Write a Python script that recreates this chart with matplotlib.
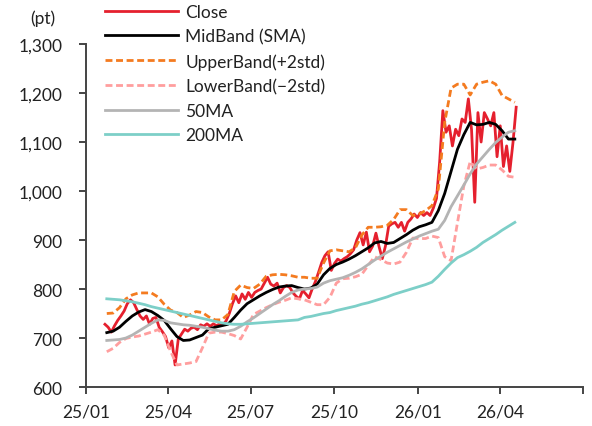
import pandas as pd
import matplotlib
matplotlib.use('Agg')
import matplotlib.pyplot as plt
from matplotlib.ticker import StrMethodFormatter

plt.rcParams['font.family'] = ['Lato', 'DejaVu Sans']

# close, about two readings a week
close_dates = pd.date_range('2025-01-22', periods=130, freq='84h')
close = [728, 722, 712, 725, 736, 745, 755, 770, 778, 772,
         758, 745, 738, 745, 728, 740, 742, 722, 713, 703,
         680, 694, 645, 698, 708, 718, 714, 720, 722, 717,
         727, 724, 729, 724, 729, 725, 729, 727, 735, 750,
         770, 786, 772, 790, 779, 793, 783, 793, 797, 800,
         812, 824, 810, 806, 812, 792, 803, 807, 803, 792,
         785, 780, 797, 790, 782, 800, 815, 834, 854, 868,
         876, 838, 852, 861, 857, 862, 866, 872, 880, 900,
         915, 890, 916, 876, 888, 914, 886, 862, 888, 928,
         933, 936, 926, 936, 918, 936, 943, 953, 946, 956,
         950, 956, 950, 965, 985, 1060, 1164, 1120, 1133, 1092,
         1126, 1113, 1147, 1140, 1188, 1125, 977, 1160, 1100, 1160,
         1147, 1133, 1160, 1070, 1133, 1050, 1092, 1040, 1099, 1171]

# bands and moving averages, weekly
dates = pd.date_range('2025-01-24', periods=65, freq='7D')
mid = [711, 714, 722, 734, 745, 753, 758, 754, 746, 736,
       719, 703, 695, 696, 701, 706, 719, 722, 725, 728,
       742, 757, 770, 778, 786, 793, 799, 804, 806, 807,
       803, 800, 802, 810, 829, 842, 850, 855, 861, 868,
       876, 884, 894, 897, 893, 895, 903, 911, 920, 927,
       931, 936, 960, 995, 1040, 1085, 1115, 1140, 1135, 1136,
       1140, 1136, 1123, 1106, 1106]
upper = [750, 751, 762, 780, 788, 792, 792, 792, 784, 769,
         757, 752, 742, 747, 754, 752, 743, 737, 737, 748,
         795, 808, 803, 801, 810, 826, 829, 830, 829, 827,
         824, 824, 822, 822, 853, 878, 880, 878, 876, 884,
         910, 926, 926, 927, 930, 942, 962, 962, 950, 953,
         960, 970, 1004, 1140, 1210, 1218, 1218, 1196, 1218, 1222,
         1225, 1218, 1195, 1188, 1181]
lower = [672, 679, 691, 699, 702, 704, 708, 712, 717, 706,
         673, 645, 647, 649, 652, 680, 710, 712, 712, 709,
         705, 698, 722, 748, 755, 762, 768, 773, 777, 782,
         780, 778, 773, 768, 768, 783, 812, 821, 822, 825,
         830, 848, 866, 860, 853, 851, 855, 875, 904, 903,
         903, 908, 905, 866, 858, 935, 1010, 1060, 1045, 1048,
         1053, 1053, 1043, 1030, 1028]
ma50 = [695, 696, 697, 700, 706, 714, 722, 730, 737, 736,
        731, 729, 727, 726, 724, 722, 719, 716, 714, 714,
        717, 724, 733, 741, 750, 759, 768, 776, 785, 793,
        798, 800, 801, 804, 812, 817, 820, 823, 828, 834,
        841, 850, 859, 867, 875, 882, 889, 896, 902, 908,
        913, 918, 922, 940, 968, 990, 1012, 1035, 1055, 1070,
        1085, 1099, 1110, 1120, 1123]
ma200 = [780, 779, 778, 776, 774, 771, 768, 764, 761, 758,
         755, 752, 749, 746, 743, 740, 737, 734, 731, 729,
         728, 728, 729, 730, 731, 732, 733, 734, 735, 736,
         737, 742, 744, 747, 750, 752, 756, 759, 762, 765,
         769, 772, 776, 780, 784, 789, 793, 797, 801, 805,
         809, 814, 826, 840, 853, 864, 870, 877, 885, 895,
         903, 911, 920, 928, 936]

tick_dates = pd.to_datetime(['2025-01-01', '2025-04-01', '2025-07-01', '2025-10-01',
                             '2026-01-01', '2026-04-01', '2026-07-01'])
tick_labels = ['25/01', '25/04', '25/07', '25/10', '26/01', '26/04', '']

fig = plt.figure(figsize=(5.92, 4.27), dpi=100)
ax = fig.add_axes([0.145, 0.0913, 0.84, 0.8033])

ax.plot(close_dates, close, color='#e5202e', lw=2, label='Close')
ax.plot(dates, mid, color='black', lw=2, label='MidBand (SMA)')
ax.plot(dates, upper, color='#f47b20', lw=2, dashes=(2.5, 1.3), label='UpperBand(+2std)')
ax.plot(dates, lower, color='#ff9e9e', lw=2, dashes=(2.5, 1.3), label='LowerBand(\u22122std)')
ax.plot(dates, ma50, color='#b4b4b4', lw=2, label='50MA')
ax.plot(dates, ma200, color='#7dcfc8', lw=2, label='200MA')

ax.set_ylim(600, 1300)
ax.set_yticks(range(600, 1301, 100))
ax.yaxis.set_major_formatter(StrMethodFormatter('{x:,.0f}'))
ax.set_xlim(tick_dates[0], tick_dates[-1])
ax.set_xticks(tick_dates)
ax.set_xticklabels(tick_labels)

for s in ['top', 'right']:
    ax.spines[s].set_visible(False)
for s in ['left', 'bottom']:
    ax.spines[s].set_color('#444444')
    ax.spines[s].set_linewidth(1.4)
ax.tick_params(axis='both', direction='out', length=5, width=1.4, color='#444444',
               labelsize=12.5, labelcolor='#222222')
ax.tick_params(axis='y', pad=12)
ax.tick_params(axis='x', pad=7)

fig.text(0.072, 0.955, '(pt)', fontsize=12.5, color='#222222', ha='center', va='center')

leg = fig.legend(loc='upper left', bbox_to_anchor=(0.165, 1.005), frameon=False,
                 fontsize=12.5, handlelength=4.2, handletextpad=0.45, labelspacing=0.49,
                 borderaxespad=0)
for t in leg.get_texts():
    t.set_color('#222222')

fig.savefig('out.png', dpi=100)
